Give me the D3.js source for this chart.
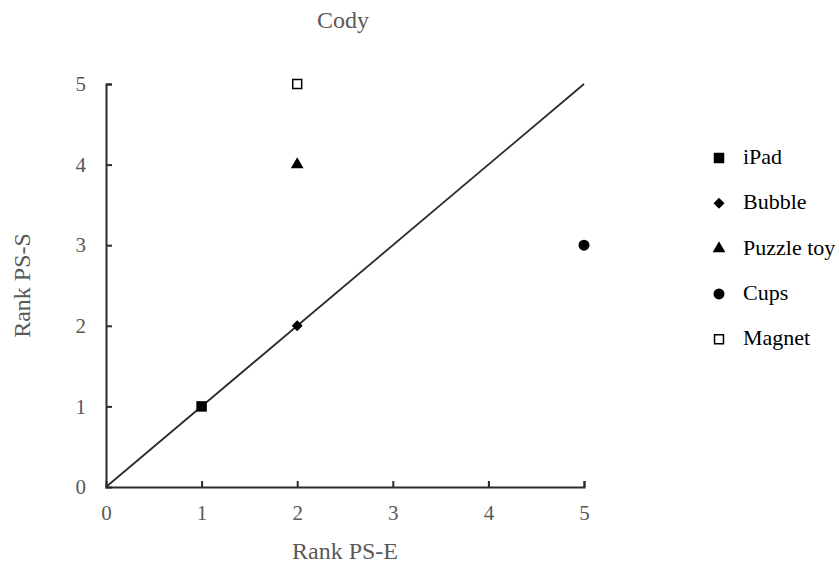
<!DOCTYPE html>
<html>
<head>
<meta charset="utf-8">
<script src="https://cdn.jsdelivr.net/npm/d3@7"></script>
<style>
  body { margin: 0; background: #fff; }
  svg { font-family: "Liberation Serif", "Times New Roman", serif; }
</style>
</head>
<body>
<svg id="chart" width="839" height="571"></svg>
<script>
// data
const items = ['iPad', 'Bubble', 'Puzzle toy', 'Cups', 'Magnet'];
const rankE = [1, 2, 2, 5, 2];   // x, Rank PS-E
const rankS = [1, 2, 4, 3, 5];   // y, Rank PS-S
const ticks = [0, 1, 2, 3, 4, 5];

const svg = d3.select('#chart');
const x = d3.scaleLinear().domain([0, 5]).range([106, 584]);
const y = d3.scaleLinear().domain([0, 5]).range([487, 84]);

// square diamond (d3's diamond is too tall)
const squareDiamond = {
  draw(ctx, size) {
    const r = Math.sqrt(size / 2);
    ctx.moveTo(0, -r); ctx.lineTo(r, 0); ctx.lineTo(0, r); ctx.lineTo(-r, 0); ctx.closePath();
  },
};
// marker for each item
const shapes = [
  { type: d3.symbolSquare, size: 110, fill: '#000' },
  { type: squareDiamond, size: 60, fill: '#000' },
  { type: d3.symbolTriangle, size: 70, fill: '#000' },
  { type: d3.symbolCircle, size: 95, fill: '#000' },
  { type: d3.symbolSquare, size: 80, fill: '#fff' },
];
const symbolPath = (i) => d3.symbol().type(shapes[i].type).size(shapes[i].size)();

// axes, ticks pointing inward
const xAxis = svg.append('g')
  .attr('transform', `translate(0,${y(0)})`)
  .call(d3.axisBottom(x).tickValues(ticks).tickFormat(d3.format('d'))
    .tickSize(-6).tickPadding(18).tickSizeOuter(-6));
const yAxis = svg.append('g')
  .attr('transform', `translate(${x(0)},0)`)
  .call(d3.axisLeft(y).tickValues(ticks).tickFormat(d3.format('d'))
    .tickSize(-6).tickPadding(20).tickSizeOuter(-6));
[xAxis, yAxis].forEach((g) => {
  g.select('.domain').attr('stroke', '#2b2b2b').attr('stroke-width', 2);
  g.selectAll('.tick line').attr('stroke', '#2b2b2b').attr('stroke-width', 2);
  g.selectAll('.tick text')
    .attr('fill', '#595959')
    .attr('font-size', 21)
    .attr('font-family', '"Liberation Serif", serif');
});
yAxis.selectAll('.tick').filter((d) => d === 0).select('line').remove();
xAxis.selectAll('.tick').filter((d) => d === 0).select('line').remove();

// the 1:1 line
svg.append('line')
  .attr('x1', x(0)).attr('y1', y(0))
  .attr('x2', x(5)).attr('y2', y(5))
  .attr('stroke', '#2b2b2b')
  .attr('stroke-width', 1.8);

// points
svg.append('g')
  .selectAll('path')
  .data(items)
  .join('path')
  .attr('d', (d, i) => symbolPath(i))
  .attr('transform', (d, i) => `translate(${x(rankE[i])},${y(rankS[i])})`)
  .attr('fill', (d, i) => shapes[i].fill)
  .attr('stroke', '#000')
  .attr('stroke-width', (d, i) => (i === 4 ? 1.5 : 0));

// title and axis labels
svg.append('text')
  .attr('x', 343).attr('y', 28)
  .attr('text-anchor', 'middle')
  .attr('font-size', 24)
  .attr('fill', '#595959')
  .text('Cody');
svg.append('text')
  .attr('x', 345).attr('y', 559)
  .attr('text-anchor', 'middle')
  .attr('font-size', 24)
  .attr('fill', '#595959')
  .text('Rank PS-E');
svg.append('text')
  .attr('transform', `translate(30,${(y(0) + y(5)) / 2}) rotate(-90)`)
  .attr('text-anchor', 'middle')
  .attr('font-size', 24)
  .attr('fill', '#595959')
  .text('Rank PS-S');

// legend
const legend = svg.append('g').attr('transform', 'translate(719,158)');
const rows = legend.selectAll('g')
  .data(items)
  .join('g')
  .attr('transform', (d, i) => `translate(0,${i * 45.3})`);
rows.append('path')
  .attr('d', (d, i) => symbolPath(i))
  .attr('fill', (d, i) => shapes[i].fill)
  .attr('stroke', '#000')
  .attr('stroke-width', (d, i) => (i === 4 ? 1.5 : 0));
rows.append('text')
  .attr('x', 24)
  .attr('y', 6)
  .attr('font-size', 22)
  .attr('fill', '#000')
  .text((d) => d);
</script>
</body>
</html>
